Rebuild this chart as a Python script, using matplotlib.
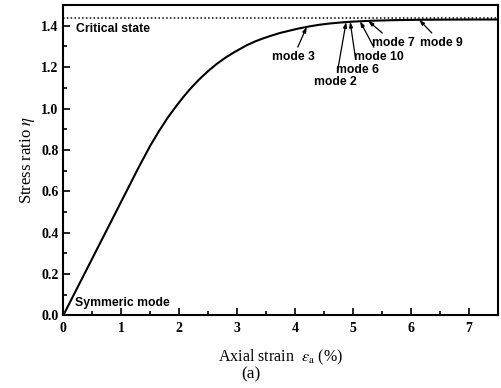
import numpy as np
import matplotlib
matplotlib.use("Agg")
import matplotlib.pyplot as plt

# curve
strain = [0, 0.5, 1.0, 1.3, 1.5, 1.65, 1.8, 1.95, 2.07, 2.2, 2.35, 2.5, 2.65,
          2.8, 2.95, 3.16, 3.3, 3.45, 3.6, 3.74, 3.9, 4.05, 4.23, 4.4, 4.6,
          4.8, 5.0, 5.3, 5.7, 6.2, 7.0, 7.5]
eta = [0, 0.275, 0.55, 0.715, 0.82, 0.89, 0.955, 1.012, 1.055, 1.098, 1.142,
       1.181, 1.216, 1.246, 1.272, 1.305, 1.323, 1.339, 1.353, 1.365, 1.376,
       1.386, 1.396, 1.404, 1.411, 1.416, 1.42, 1.424, 1.427, 1.429, 1.43, 1.43]
critical = 1.435

# bifurcation modes: label, strain at arrow tip, label position
modes = ["mode 3", "mode 2", "mode 6", "mode 10", "mode 7", "mode 9"]
mode_strain = [4.2, 4.88, 4.95, 5.12, 5.26, 6.14]
label_x = [3.97, 4.70, 5.07, 5.45, 5.70, 6.52]
label_y = [1.248, 1.130, 1.188, 1.248, 1.318, 1.318]

plt.rcParams['font.family'] = ['Liberation Serif', 'DejaVu Serif']
plt.rcParams['mathtext.fontset'] = 'stix'

fig = plt.figure(figsize=(5.02, 3.88), dpi=100)
ax = fig.add_axes([0.126, 0.187, 0.866, 0.800])

ax.plot(strain, eta, color='black', lw=1.5)
ax.plot([0, 7.5], [critical, critical], color='black', lw=1.1, ls=(0, (1, 1.5)))

sans = ['Liberation Sans', 'DejaVu Sans']
for lab, sx, tx, ty in zip(modes, mode_strain, label_x, label_y):
    sy = np.interp(sx, strain, eta)
    ax.annotate(lab, xy=(sx, sy), xytext=(tx, ty), ha='center', va='center',
                fontsize=8.8, fontweight='bold', family=sans,
                arrowprops=dict(arrowstyle='-|>,head_length=0.35,head_width=0.12',
                                color='black', lw=0.9, shrinkA=1, shrinkB=0))

ax.text(0.22, 1.385, 'Critical state', fontsize=8.8, fontweight='bold', family=sans,
        ha='left', va='center')
ax.text(0.2, 0.058, 'Symmeric mode', fontsize=8.8, fontweight='bold', family=sans,
        ha='left', va='center')

ax.set_xlim(0, 7.5)
ax.set_ylim(0, 1.5)
ax.set_xticks(range(0, 8))
ax.set_xticks(np.arange(0, 7.6, 0.5), minor=True)
ax.set_yticks(np.arange(0, 1.41, 0.2))
ax.set_yticks(np.arange(0, 1.51, 0.1), minor=True)
ax.set_yticklabels([f'{v:.1f}' for v in np.arange(0, 1.41, 0.2)])
ax.tick_params(which='both', direction='in', labelsize=10, width=1.2)
ax.tick_params(which='major', length=5)
ax.tick_params(which='minor', length=3)
ax.tick_params(axis='x', pad=5)
for t in ax.get_xticklabels() + ax.get_yticklabels():
    t.set_fontweight('bold')
for s in ax.spines.values():
    s.set_linewidth(1.5)

ax.set_xlabel(r'Axial strain  $\varepsilon_{\rm a}$ (%)', fontsize=11.5, labelpad=9)
ax.set_ylabel(r'Stress ratio $\eta$', fontsize=12, labelpad=3)
fig.text(0.5, 0.035, '(a)', ha='center', va='center', fontsize=12.5)

fig.savefig('out.png', dpi=100)
